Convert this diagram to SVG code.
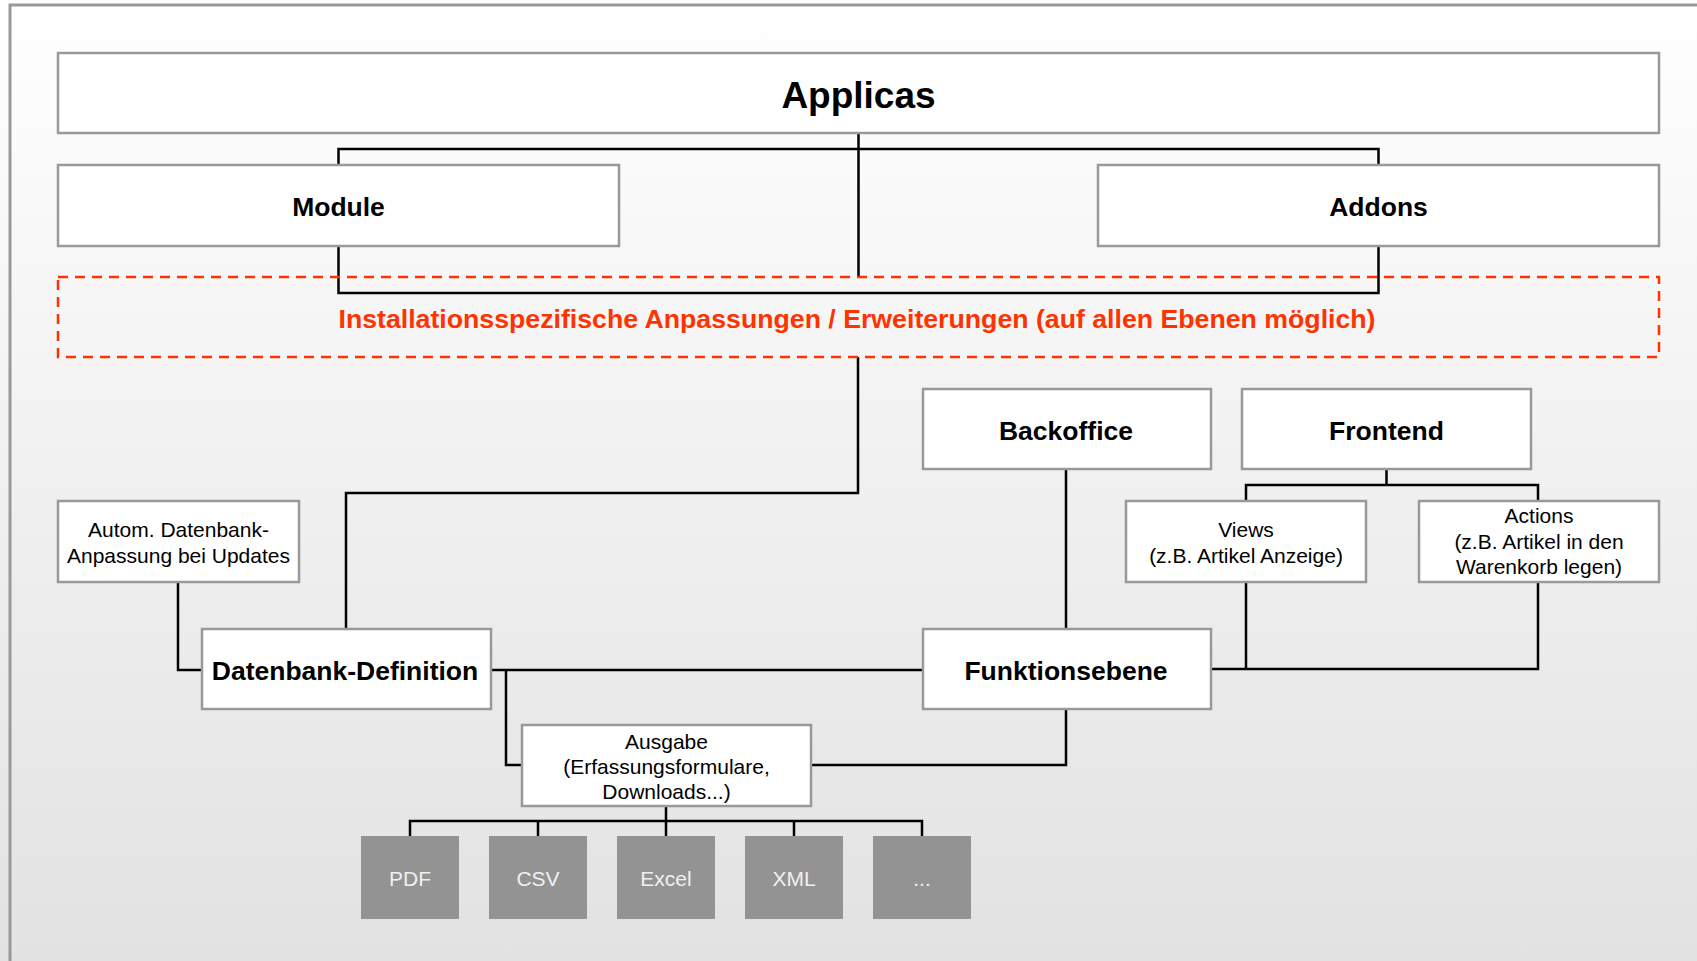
<svg xmlns="http://www.w3.org/2000/svg" width="1697" height="961" viewBox="0 0 1697 961">
<defs>
<linearGradient id="bg" x1="0" y1="0" x2="0" y2="1">
<stop offset="0" stop-color="#ffffff"/>
<stop offset="1" stop-color="#e2e2e2"/>
</linearGradient>
<style>
.box{fill:#ffffff;stroke:#999999;stroke-width:2.5}
.gbox{fill:#939393;stroke:none}
.con{fill:none;stroke:#000000;stroke-width:2.5}
.t{font-family:"Liberation Sans",Arial,sans-serif;text-anchor:middle;fill:#000}
.b{font-weight:bold;font-size:26.5px}
.s{font-size:21px}
.g{font-size:21px;fill:#f0f0f0}
</style>
</defs>
<rect x="0" y="0" width="1697" height="961" fill="url(#bg)"/>
<rect x="10" y="5" width="1700" height="1000" fill="none" stroke="#999999" stroke-width="3"/>

<g id="connectors">
<path class="con" d="M858.5 133V277M338.5 165V149H1378.5V165"/>
<path class="con" d="M338.5 246V293H1378.5V246"/>
<path class="con" d="M858 357V493H346V629"/>
<path class="con" d="M178 582V670H202"/>
<path class="con" d="M491 670H923"/>
<path class="con" d="M506 670V765H522"/>
<path class="con" d="M811 765H1066V709"/>
<path class="con" d="M1066 469V629"/>
<path class="con" d="M1386.5 469V485M1246 501V485H1538V501"/>
<path class="con" d="M1211 669H1538V582M1246 582V669"/>
<path class="con" d="M666 806V821M410 836V821H922V836M538 821V836M666 821V836M794 821V836"/>
</g>

<g id="applicas">
<rect class="box" x="58" y="53" width="1601" height="80"/>
<text class="t" x="858.5" y="108" font-size="37" font-weight="bold">Applicas</text>
</g>
<g id="module">
<rect class="box" x="58" y="165" width="561" height="81"/>
<text class="t b" x="338.5" y="216">Module</text>
</g>
<g id="addons">
<rect class="box" x="1098" y="165" width="561" height="81"/>
<text class="t b" x="1378.5" y="216">Addons</text>
</g>
<g id="anpassungen">
<rect x="58" y="277" width="1601" height="80" fill="none" stroke="#ff3300" stroke-width="2.5" stroke-dasharray="10,7"/>
<text class="t b" x="857" y="328" style="fill:#ff3300" textLength="1037" lengthAdjust="spacingAndGlyphs">Installationsspezifische Anpassungen / Erweiterungen (auf allen Ebenen möglich)</text>
</g>
<g id="backoffice">
<rect class="box" x="923" y="389" width="288" height="80"/>
<text class="t b" x="1066" y="440">Backoffice</text>
</g>
<g id="frontend">
<rect class="box" x="1242" y="389" width="289" height="80"/>
<text class="t b" x="1386.5" y="440">Frontend</text>
</g>
<g id="autom">
<rect class="box" x="58" y="501" width="241" height="81"/>
<text class="t s" x="178.5" y="537">Autom. Datenbank-</text>
<text class="t s" x="178.5" y="563">Anpassung bei Updates</text>
</g>
<g id="views">
<rect class="box" x="1126" y="501" width="240" height="81"/>
<text class="t s" x="1246" y="537">Views</text>
<text class="t s" x="1246" y="563">(z.B. Artikel Anzeige)</text>
</g>
<g id="actions">
<rect class="box" x="1419" y="501" width="240" height="81"/>
<text class="t s" x="1539" y="523">Actions</text>
<text class="t s" x="1539" y="549">(z.B. Artikel in den</text>
<text class="t s" x="1539" y="574">Warenkorb legen)</text>
</g>
<g id="datenbank">
<rect class="box" x="202" y="629" width="289" height="80"/>
<text class="t b" x="345" y="680">Datenbank-Definition</text>
</g>
<g id="funktionsebene">
<rect class="box" x="923" y="629" width="288" height="80"/>
<text class="t b" x="1066" y="680">Funktionsebene</text>
</g>
<g id="ausgabe">
<rect class="box" x="522" y="725" width="289" height="81"/>
<text class="t s" x="666.5" y="749">Ausgabe</text>
<text class="t s" x="666.5" y="774">(Erfassungsformulare,</text>
<text class="t s" x="666.5" y="799">Downloads...)</text>
</g>
<g id="pdf"><rect class="gbox" x="361" y="836" width="98" height="83"/><text class="t g" x="410" y="886">PDF</text></g>
<g id="csv"><rect class="gbox" x="489" y="836" width="98" height="83"/><text class="t g" x="538" y="886">CSV</text></g>
<g id="excel"><rect class="gbox" x="617" y="836" width="98" height="83"/><text class="t g" x="666" y="886">Excel</text></g>
<g id="xml"><rect class="gbox" x="745" y="836" width="98" height="83"/><text class="t g" x="794" y="886">XML</text></g>
<g id="more"><rect class="gbox" x="873" y="836" width="98" height="83"/><text class="t g" x="922" y="886">...</text></g>
</svg>
